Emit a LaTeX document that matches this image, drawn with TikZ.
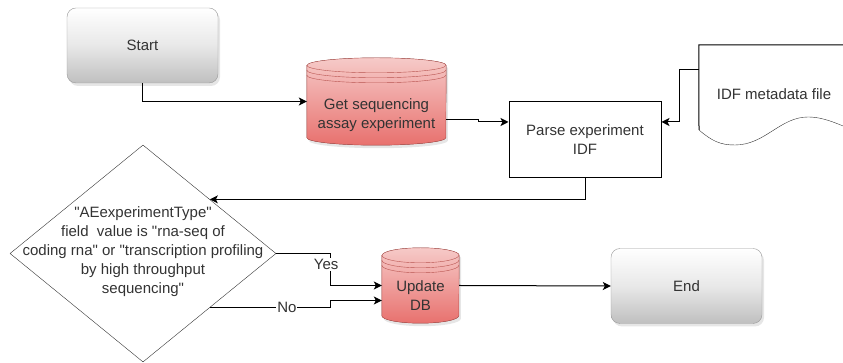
\documentclass[tikz,border=0pt]{standalone}
\usepackage{fontspec}
\setmainfont{Liberation Sans}[Ligatures=TeXOff]
\usepackage{tikz}
\usetikzlibrary{arrows.meta,positioning,calc,shapes.geometric,shadows,backgrounds}
\definecolor{txt}{HTML}{333333}
\definecolor{dbtop}{HTML}{F6CAC8}
\definecolor{dbbot}{HTML}{E8716E}
\definecolor{dbline}{HTML}{B85450}
\tikzset{
  term/.style={draw=gray!80,rounded corners=9pt,minimum width=151pt,minimum height=75pt,
    top color=white,bottom color=gray!50,middle color=gray!18,
    drop shadow={opacity=0.2,shadow xshift=2pt,shadow yshift=-3pt}},
  store/.style 2 args={minimum width=#1,minimum height=#2,inner sep=0pt},
  storetext/.style={align=center,yshift=#1},
  proc/.style={draw,line width=1pt,minimum width=152pt,minimum height=76pt,align=center},
  decision/.style={draw=black!80,diamond,minimum width=266pt,minimum height=217pt,inner sep=0pt},
  arr/.style={line width=1pt,-{Stealth[length=8pt,width=8pt,inset=2pt]}},
  lbl/.style={fill=white,inner sep=1pt},
}
% cylinder drawn behind a named node (#2 = half width)
\newcommand{\storeshape}[2]{%
  \begin{scope}[on background layer]
  \filldraw[draw=dbline,top color=dbtop,bottom color=dbbot,
    drop shadow={opacity=0.2,shadow xshift=2pt,shadow yshift=-3pt}]
    ([yshift=-7.5pt]#1.north west) -- ([yshift=7.5pt]#1.south west)
    arc[start angle=180,end angle=360,x radius=#2pt,y radius=7.5pt]
    -- ([yshift=-7.5pt]#1.north east)
    arc[start angle=0,end angle=180,x radius=#2pt,y radius=7.5pt] -- cycle;
  \draw[dbline] ([yshift=-7.5pt]#1.north west) arc[start angle=180,end angle=360,x radius=#2pt,y radius=7.5pt]
    ([yshift=-12.5pt]#1.north west) arc[start angle=180,end angle=360,x radius=#2pt,y radius=7.5pt]
    ([yshift=-17.5pt]#1.north west) arc[start angle=180,end angle=360,x radius=#2pt,y radius=7.5pt];
  \end{scope}}

\begin{document}
\begin{tikzpicture}[x=1pt,y=1pt,
  every node/.style={font=\fontsize{15}{19}\selectfont,text=txt}]
 \clip (0,0) rectangle (843,363);
 % ---- start
 \node[term] (start) at (142.5,317.5) {Start};
 % ---- get experiment
 \node[store={139pt}{87pt},label={[storetext=-13.5pt]center:{Get sequencing\\assay experiment}}] (get) at (376.5,261.5) {};
 \storeshape{get}{69.5}
 \draw[arr] (start.south) |- (get.west);
 % ---- parse IDF
 \node[proc] (parse) at (585,223) {Parse experiment\\IDF};
 \draw[arr] ([yshift=-18]get.east) -- ++(32,0) |- ([yshift=18]parse.west);
 % ---- IDF metadata file
 \node[minimum width=150pt,minimum height=98pt,inner sep=0pt] (idf) at (774,269) {IDF metadata file};
 \draw[line width=1pt] (699,233) -- (idf.north west) -- (860,318);
 \draw[black!80] (699,233) .. controls (712,222) and (720,218) .. (735,218)
   .. controls (765,218) and (780,246) .. (808,246) .. controls (825,246) and (840,238) .. (860,230);
 \draw[arr] ([yshift=24]idf.west) -- ++(-19,0) |- ([yshift=18]parse.east);
 % ---- decision
 \node[decision] (cond) at (143,109.5) {};
 \node[align=center] (condtxt) at ([yshift=2]cond) {"AEexperimentType"\\field~ value is "rna-seq of\\coding rna" or "transcription profiling\\by high throughput\\sequencing"};
 \draw[arr] (parse.south) |- (cond.39.3);
 % ---- update DB
 \node[store={77pt}{75pt},label={[storetext=-10.5pt]center:{Update\\DB}}] (db) at (420.5,77.5) {};
 \storeshape{db}{38.5}
 \coordinate (jn) at ($(cond.east)+(54,0)$);
 \coordinate (nopt) at (cond.-39.3);
 \draw[arr] (cond.east) -- (jn) |- node[lbl,pos=0.17,xshift=-4pt]{Yes} (db.west);
 \draw[arr] (nopt) -- node[lbl,pos=0.64]{No} (nopt -| jn) |- ([yshift=-15]db.west);
 % ---- end
 \node[term] (end) at (686.5,77) {End};
 \draw[arr] (db.east) -- (end.west);
\end{tikzpicture}
\end{document}
